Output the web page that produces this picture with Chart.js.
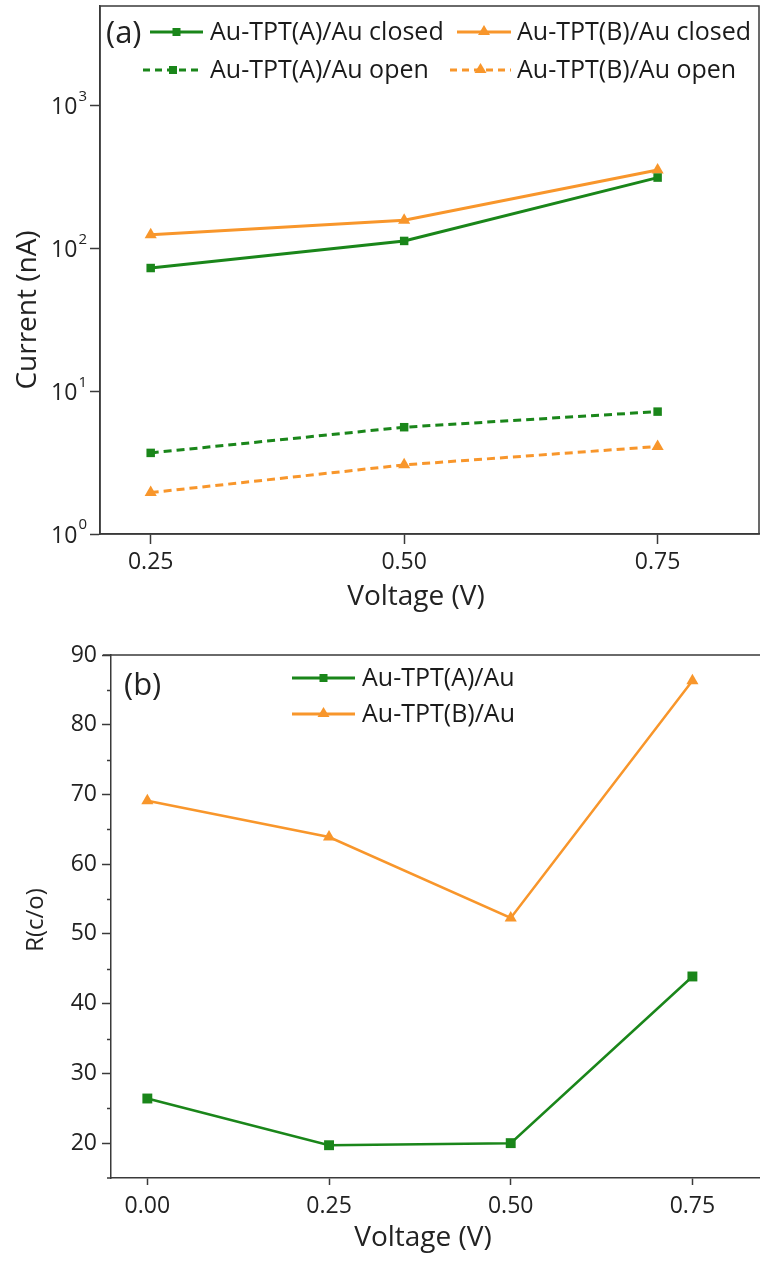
<!DOCTYPE html>
<html lang="en">
<head>
    <meta charset="UTF-8">
    <title>Current and R(c/o) vs Voltage</title>
    <script src="https://cdn.jsdelivr.net/npm/chart.js@4.4.0/dist/chart.umd.min.js"></script>
    <style>
        html, body {
            margin: 0;
            padding: 0;
            background: #fff;
            overflow: hidden;
        }
        .panel {
            position: absolute;
            left: 0;
        }
    </style>
</head>
<body>
    <div class="panel" style="top:0"><canvas id="chartA" width="760" height="620"></canvas></div>
    <div class="panel" style="top:620px"><canvas id="chartB" width="760" height="641"></canvas></div>
    <script>
        // panel (a) - current on a log axis
        const voltsA = [0.25, 0.50, 0.75];
        const closedA = [73, 113, 314];
        const closedB = [125, 158, 355];
        const openA = [3.7, 5.6, 7.2];
        const openB = [1.95, 3.05, 4.1];
        const logTicks = [1, 10, 100, 1000];
        const xTicksA = [0.25, 0.50, 0.75];

        // panel (b) - closed/open ratio
        const voltsR = [0, 0.25, 0.50, 0.75];
        const ratioA = [26.4, 19.7, 20.0, 43.9];
        const ratioB = [69.1, 63.9, 52.3, 86.3];
        const yTicksB = [20, 30, 40, 50, 60, 70, 80, 90];
        const xTicksB = [0, 0.25, 0.50, 0.75];

        const GREEN = '#1a861a';
        const ORANGE = '#f8962b';
        const AXIS = '#3a3a3a';
        const FONT = '"Open Sans", sans-serif';
        const TICK_SIZE = 23;

        Chart.defaults.font.family = FONT;
        Chart.defaults.color = '#222';

        const pts = (xs, ys) => xs.map((x, i) => ({ x: x, y: ys[i] }));

        function legendItem(ctx, x1, x2, y, color, dashed, style, label, tx) {
            ctx.save();
            ctx.strokeStyle = color;
            ctx.fillStyle = color;
            ctx.lineWidth = 3;
            ctx.setLineDash(dashed ? [7, 5] : []);
            ctx.beginPath();
            ctx.moveTo(x1, y);
            ctx.lineTo(x2, y);
            ctx.stroke();
            ctx.setLineDash([]);
            const cx = (x1 + x2) / 2;
            if (style === 'rect') {
                ctx.fillRect(cx - 4, y - 4, 8, 8);
            } else {
                ctx.beginPath();
                ctx.moveTo(cx, y - 7);
                ctx.lineTo(cx + 6, y + 3);
                ctx.lineTo(cx - 6, y + 3);
                ctx.closePath();
                ctx.fill();
            }
            ctx.fillStyle = '#1a1a1a';
            ctx.font = '25px ' + FONT;
            ctx.textAlign = 'left';
            ctx.textBaseline = 'middle';
            ctx.fillText(label, tx, y + 1);
            ctx.restore();
        }

        function lineSet(label, data, color, style, dashed, width, radius) {
            return {
                label: label,
                data: data,
                borderColor: color,
                backgroundColor: color,
                borderWidth: width,
                borderDash: dashed ? [8, 5] : [],
                pointStyle: style,
                pointRadius: radius,
                pointBorderWidth: 0,
                pointBackgroundColor: color,
                tension: 0
            };
        }

        const panelA = {
            id: 'panelA',
            afterDraw: chart => {
                const ctx = chart.ctx;
                const a = chart.chartArea;
                const ys = chart.scales.y;
                ctx.save();
                // box frame
                ctx.strokeStyle = AXIS;
                ctx.lineWidth = 1.5;
                ctx.strokeRect(a.left, a.top, a.right - a.left, a.bottom - a.top);
                // log tick labels 10^n
                ctx.fillStyle = '#222';
                ctx.textBaseline = 'middle';
                logTicks.forEach(v => {
                    const y = ys.getPixelForValue(v);
                    const exp = String(Math.round(Math.log10(v)));
                    ctx.font = '15px ' + FONT;
                    const ew = ctx.measureText(exp).width;
                    const right = a.left - 13;
                    ctx.textAlign = 'left';
                    ctx.fillText(exp, right - ew, y - 9);
                    ctx.font = TICK_SIZE + 'px ' + FONT;
                    ctx.textAlign = 'right';
                    ctx.fillText('10', right - ew - 1, y + 2);
                });
                // axis titles
                ctx.font = '28px ' + FONT;
                ctx.textAlign = 'center';
                ctx.fillText('Voltage (V)', 416, 597);
                ctx.save();
                ctx.translate(28, 310);
                ctx.rotate(-Math.PI / 2);
                ctx.fillText('Current (nA)', 0, 0);
                ctx.restore();
                // panel tag
                ctx.font = '31px ' + FONT;
                ctx.textAlign = 'left';
                ctx.fillText('(a)', a.left + 6, a.top + 28);
                ctx.restore();
                // legend
                legendItem(ctx, a.left + 50, a.left + 103, a.top + 26, GREEN, false, 'rect', 'Au-TPT(A)/Au closed', a.left + 110);
                legendItem(ctx, a.left + 43, a.left + 103, a.top + 64, GREEN, true, 'rect', 'Au-TPT(A)/Au open', a.left + 110);
                legendItem(ctx, a.left + 357, a.left + 411, a.top + 26, ORANGE, false, 'tri', 'Au-TPT(B)/Au closed', a.left + 417);
                legendItem(ctx, a.left + 350, a.left + 411, a.top + 64, ORANGE, true, 'tri', 'Au-TPT(B)/Au open', a.left + 417);
            }
        };

        new Chart(document.getElementById('chartA').getContext('2d'), {
            type: 'line',
            data: {
                datasets: [
                    lineSet('Au-TPT(A)/Au closed', pts(voltsA, closedA), GREEN, 'rect', false, 3, 6),
                    lineSet('Au-TPT(B)/Au closed', pts(voltsA, closedB), ORANGE, 'triangle', false, 3, 7),
                    lineSet('Au-TPT(A)/Au open', pts(voltsA, openA), GREEN, 'rect', true, 3, 6),
                    lineSet('Au-TPT(B)/Au open', pts(voltsA, openB), ORANGE, 'triangle', true, 3, 7)
                ]
            },
            options: {
                responsive: false,
                animation: false,
                layout: { autoPadding: false, padding: { left: 0, right: 1, top: 6, bottom: 0 } },
                plugins: { legend: { display: false }, tooltip: { enabled: false } },
                scales: {
                    x: {
                        type: 'linear',
                        min: 0.2,
                        max: 0.85,
                        afterBuildTicks: s => { s.ticks = xTicksA.map(v => ({ value: v })); },
                        afterFit: s => { s.height = 86; },
                        grid: { drawOnChartArea: false, tickLength: 10, color: AXIS, tickWidth: 1.5 },
                        border: { color: AXIS, width: 1.5 },
                        ticks: { font: { size: TICK_SIZE }, padding: 5, callback: v => v.toFixed(2) }
                    },
                    y: {
                        type: 'logarithmic',
                        min: 1,
                        max: 5000,
                        afterBuildTicks: s => { s.ticks = logTicks.map(v => ({ value: v })); },
                        afterFit: s => { s.width = 100; },
                        grid: { drawOnChartArea: false, tickLength: 10, color: AXIS, tickWidth: 1.5 },
                        border: { color: AXIS, width: 1.5 },
                        ticks: { display: false }
                    }
                }
            },
            plugins: [panelA]
        });

        const panelB = {
            id: 'panelB',
            afterDraw: chart => {
                const ctx = chart.ctx;
                const a = chart.chartArea;
                const ys = chart.scales.y;
                ctx.save();
                ctx.strokeStyle = AXIS;
                ctx.lineWidth = 1.5;
                // top frame line and small overhang of the x axis
                ctx.beginPath();
                ctx.moveTo(a.left - 8, a.top);
                ctx.lineTo(a.right, a.top);
                ctx.moveTo(a.left - 4, a.bottom);
                ctx.lineTo(a.left, a.bottom);
                ctx.stroke();
                // minor ticks at the fives
                for (let v = 25; v < 90; v += 10) {
                    const y = Math.round(ys.getPixelForValue(v)) + 0.5;
                    ctx.beginPath();
                    ctx.moveTo(a.left - 4, y);
                    ctx.lineTo(a.left, y);
                    ctx.stroke();
                }
                ctx.fillStyle = '#222';
                ctx.textBaseline = 'middle';
                ctx.font = '28px ' + FONT;
                ctx.textAlign = 'center';
                ctx.fillText('Voltage (V)', 423, 618);
                ctx.save();
                ctx.translate(36, 300);
                ctx.rotate(-Math.PI / 2);
                ctx.font = '24px ' + FONT;
                ctx.fillText('R(c/o)', 0, 0);
                ctx.restore();
                ctx.font = '31px ' + FONT;
                ctx.textAlign = 'left';
                ctx.fillText('(b)', a.left + 13, a.top + 31);
                ctx.restore();
                legendItem(ctx, a.left + 181, a.left + 244, a.top + 23, GREEN, false, 'rect', 'Au-TPT(A)/Au', a.left + 251);
                legendItem(ctx, a.left + 181, a.left + 244, a.top + 59, ORANGE, false, 'tri', 'Au-TPT(B)/Au', a.left + 251);
            }
        };

        new Chart(document.getElementById('chartB').getContext('2d'), {
            type: 'line',
            data: {
                datasets: [
                    lineSet('Au-TPT(A)/Au', pts(voltsR, ratioA), GREEN, 'rect', false, 2.5, 7),
                    lineSet('Au-TPT(B)/Au', pts(voltsR, ratioB), ORANGE, 'triangle', false, 2.5, 7)
                ]
            },
            options: {
                responsive: false,
                animation: false,
                layout: { autoPadding: false, padding: { left: 0, right: 0, top: 35, bottom: 0 } },
                plugins: { legend: { display: false }, tooltip: { enabled: false } },
                scales: {
                    x: {
                        type: 'linear',
                        min: -0.05,
                        max: 0.843,
                        afterBuildTicks: s => { s.ticks = xTicksB.map(v => ({ value: v })); },
                        afterFit: s => { s.height = 83; },
                        grid: { drawOnChartArea: false, tickLength: 7, color: AXIS, tickWidth: 1.5 },
                        border: { color: AXIS, width: 1.5 },
                        ticks: { font: { size: TICK_SIZE }, padding: 8, callback: v => v.toFixed(2) }
                    },
                    y: {
                        type: 'linear',
                        min: 15,
                        max: 90,
                        afterBuildTicks: s => { s.ticks = yTicksB.map(v => ({ value: v })); },
                        afterFit: s => { s.width = 111; },
                        grid: { drawOnChartArea: false, tickLength: 9, color: AXIS, tickWidth: 1.5 },
                        border: { color: AXIS, width: 1.5 },
                        ticks: { font: { size: TICK_SIZE }, padding: 5 }
                    }
                }
            },
            plugins: [panelB]
        });
    </script>
</body>
</html>
